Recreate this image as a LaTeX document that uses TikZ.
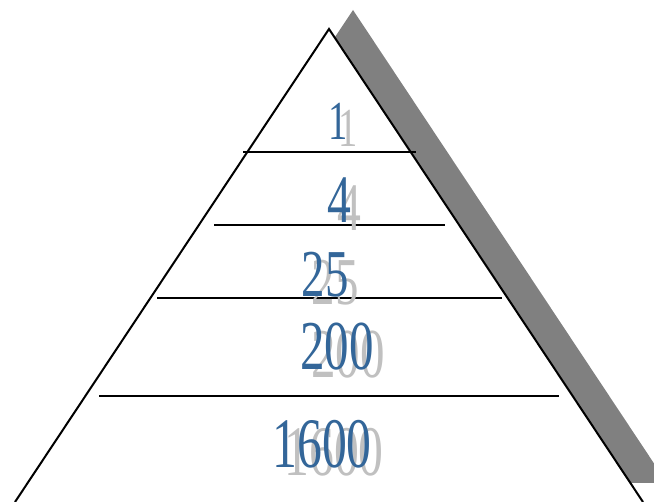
\documentclass[tikz,border=0pt]{standalone}
\usepackage{fontspec}
\setmainfont{Liberation Serif}
\definecolor{numblue}{RGB}{51,102,153}
\definecolor{numgray}{RGB}{192,192,192}
\definecolor{shadowgray}{RGB}{128,128,128}
\begin{document}
\begin{tikzpicture}[x=1pt,y=-1pt,
  edge/.style={line width=2pt,black},
  num/.style={inner sep=0pt,anchor=base,xscale=0.7},
  blue num/.style={num,text=numblue},
  gray num/.style={num,text=numgray}]
\useasboundingbox (0,0) rectangle (654,502);
\begin{scope}
\clip (0,0) rectangle (654,502);
\fill[shadowgray] (353,10) -- (667,483) -- (39,483) -- cycle;
\end{scope}
\coordinate (apex) at (329,29);
\coordinate (bl) at (15,502);
\coordinate (br) at (643,502);
\fill[white] (bl) -- (apex) -- (br) -- cycle;
\draw[edge,line join=miter] (bl) -- (apex) -- (br);
\coordinate (l1a) at (243,152); \coordinate (l1b) at (416,152);
\coordinate (l2a) at (214,225); \coordinate (l2b) at (445,225);
\coordinate (l3a) at (157,298); \coordinate (l3b) at (502,298);
\coordinate (l4a) at (99,396);  \coordinate (l4b) at (559,396);
\draw[edge] (l1a) -- (l1b);
\draw[edge] (l2a) -- (l2b);
\draw[edge] (l3a) -- (l3b);
\draw[edge] (l4a) -- (l4b);
% gray shadow texts
\node[gray num,font=\fontsize{55}{55}\selectfont] (g1) at (348,147) {1};
\node[gray num,font=\fontsize{68}{68}\selectfont] (g4) at (349,231) {4};
\node[gray num,font=\fontsize{67}{67}\selectfont] (g25) at (335,305) {25};
\node[gray num,font=\fontsize{70}{70}\selectfont] (g200) at (348,378) {200};
\node[gray num,font=\fontsize{71}{71}\selectfont] (g1600) at (334,476) {1600};
% blue texts
\node[blue num,font=\fontsize{55}{55}\selectfont] (b1) at (338,140) {1};
\node[blue num,font=\fontsize{68}{68}\selectfont] (b4) at (339,223) {4};
\node[blue num,font=\fontsize{67}{67}\selectfont] (b25) at (325,297) {25};
\node[blue num,font=\fontsize{70}{70}\selectfont] (b200) at (337,370) {200};
\node[blue num,font=\fontsize{71}{71}\selectfont] (b1600) at (322,468) {1600};
\end{tikzpicture}
\end{document}
